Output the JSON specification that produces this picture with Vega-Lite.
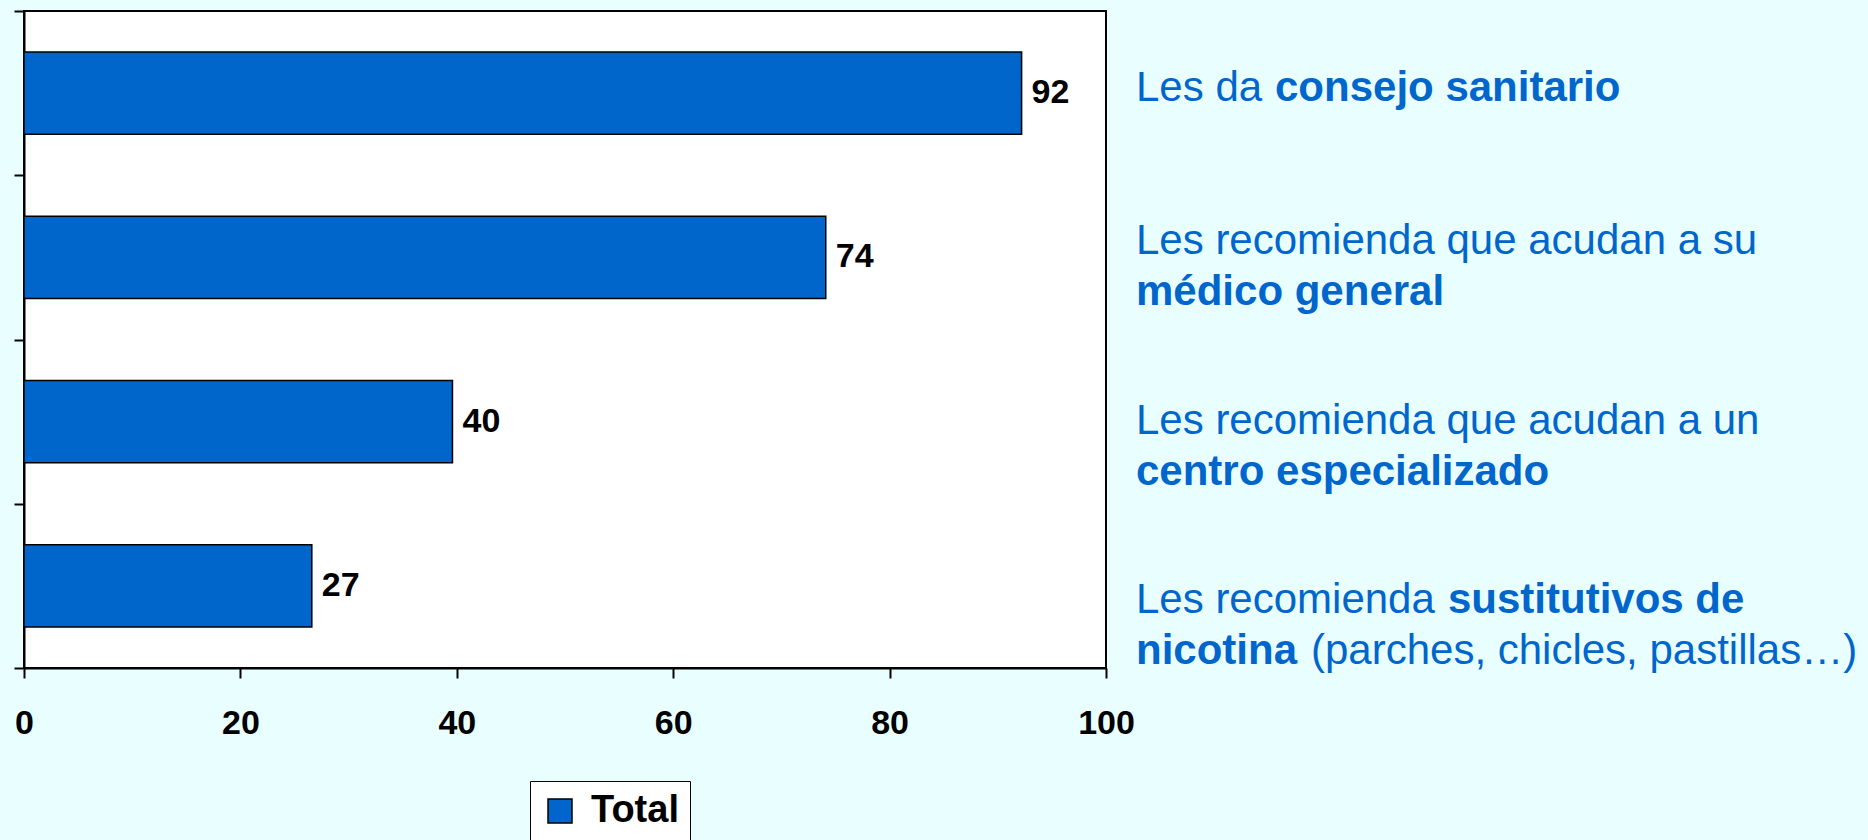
{
  "$schema": "https://vega.github.io/schema/vega-lite/v6.json",
  "width": 1082,
  "height": 657,
  "autosize": {"type": "none"},
  "padding": {"left": 24, "top": 11, "right": 762, "bottom": 172},
  "background": "#E9FFFF",
  "config": {
    "font": "Liberation Sans",
    "view": {"fill": "white", "stroke": "black", "strokeWidth": 2}
  },
  "datasets": {
    "barras": [
      {"categoria": "consejo sanitario", "valor": 92.2, "serie": "Total"},
      {"categoria": "médico general", "valor": 74.1, "serie": "Total"},
      {"categoria": "centro especializado", "valor": 39.6, "serie": "Total"},
      {"categoria": "sustitutivos de nicotina", "valor": 26.6, "serie": "Total"}
    ],
    "textos": [
      {"categoria": "consejo sanitario", "linea": "unica", "parte": "inicio", "texto": "Les da"},
      {"categoria": "consejo sanitario", "linea": "unica", "parte": "resto", "texto": "consejo sanitario"},
      {"categoria": "médico general", "linea": "1", "parte": "inicio", "texto": "Les recomienda que acudan a su"},
      {"categoria": "médico general", "linea": "2", "parte": "inicio", "texto": "médico general"},
      {"categoria": "centro especializado", "linea": "1", "parte": "inicio", "texto": "Les recomienda que acudan a un"},
      {"categoria": "centro especializado", "linea": "2", "parte": "inicio", "texto": "centro especializado"},
      {"categoria": "sustitutivos de nicotina", "linea": "1", "parte": "inicio", "texto": "Les recomienda"},
      {"categoria": "sustitutivos de nicotina", "linea": "1", "parte": "resto", "texto": "sustitutivos de"},
      {"categoria": "sustitutivos de nicotina", "linea": "2", "parte": "inicio", "texto": "nicotina"},
      {"categoria": "sustitutivos de nicotina", "linea": "2", "parte": "resto", "texto": "(parches, chicles, pastillas…)"}
    ]
  },
  "resolve": {"scale": {"y": "independent"}},
  "layer": [
    {
      "data": {"name": "barras"},
      "mark": {"type": "bar", "stroke": "black", "strokeWidth": 1.5, "height": {"band": 0.5}},
      "encoding": {
        "x": {
          "field": "valor", "type": "quantitative",
          "scale": {"domain": [0, 100], "nice": false},
          "axis": {"values": [0, 20, 40, 60, 80, 100], "title": null, "grid": false, "labelFontSize": 34, "labelFontWeight": "bold", "labelColor": "black", "labelPadding": 28, "labelFlush": false, "tickSize": 10, "tickColor": "black", "tickWidth": 2, "domainColor": "black", "domainWidth": 2}
        },
        "y": {
          "field": "categoria", "type": "nominal", "sort": null,
          "scale": {"type": "band", "paddingInner": 0, "paddingOuter": 0, "domain": ["consejo sanitario", "médico general", "centro especializado", "sustitutivos de nicotina"]},
          "axis": {"labels": false, "title": null, "grid": false, "tickBand": "extent", "tickSize": 10, "tickColor": "black", "tickWidth": 2, "domainColor": "black", "domainWidth": 2}
        },
        "color": {
          "field": "serie", "type": "nominal",
          "scale": {"range": ["#0066CC"]},
          "legend": {"orient": "none", "legendX": 506, "legendY": 770, "title": null, "symbolType": "square", "symbolSize": 576, "symbolStrokeColor": "black", "symbolStrokeWidth": 1.5, "symbolOpacity": 1, "labelFontSize": 38, "labelFontWeight": "bold", "labelColor": "black", "labelOffset": 12, "padding": 11, "strokeColor": "black", "fillColor": "white"}
        }
      }
    },
    {
      "data": {"name": "barras"},
      "mark": {"type": "text", "align": "left", "baseline": "middle", "dx": 10, "fontSize": 34, "fontWeight": "bold", "color": "black"},
      "encoding": {
        "x": {"field": "valor", "type": "quantitative", "scale": {"domain": [0, 100], "nice": false}},
        "y": {
          "field": "categoria", "type": "nominal", "sort": null,
          "scale": {"type": "band", "paddingInner": 0, "paddingOuter": 0, "domain": ["consejo sanitario", "médico general", "centro especializado", "sustitutivos de nicotina"]},
          "axis": null
        },
        "text": {"field": "valor", "type": "quantitative", "format": ".0f"}
      }
    },
    {
      "data": {"name": "textos"},
      "transform": [{"filter": "datum.linea == 'unica' && datum.parte == 'inicio'"}],
      "mark": {"type": "text", "align": "left", "baseline": "alphabetic", "dx": 30, "dy": 0, "fontSize": 42, "fontWeight": "normal", "color": "#0066CC"},
      "encoding": {
        "x": {"datum": 100, "type": "quantitative", "scale": {"domain": [0, 100], "nice": false}},
        "y": {"field": "categoria", "type": "nominal", "sort": null, "scale": {"type": "point", "padding": 0, "range": [89.5, 627.6], "domain": ["consejo sanitario", "médico general", "centro especializado", "sustitutivos de nicotina"]}, "axis": null},
        "text": {"field": "texto"}
      }
    },
    {
      "data": {"name": "textos"},
      "transform": [{"filter": "datum.linea == 'unica' && datum.parte == 'resto'"}],
      "mark": {"type": "text", "align": "left", "baseline": "alphabetic", "dx": 169, "dy": 0, "fontSize": 42, "fontWeight": "bold", "color": "#0066CC"},
      "encoding": {
        "x": {"datum": 100, "type": "quantitative", "scale": {"domain": [0, 100], "nice": false}},
        "y": {"field": "categoria", "type": "nominal", "sort": null, "scale": {"type": "point", "padding": 0, "range": [89.5, 627.6], "domain": ["consejo sanitario", "médico general", "centro especializado", "sustitutivos de nicotina"]}, "axis": null},
        "text": {"field": "texto"}
      }
    },
    {
      "data": {"name": "textos"},
      "transform": [{"filter": "datum.linea == '1' && datum.parte == 'inicio'"}],
      "mark": {"type": "text", "align": "left", "baseline": "alphabetic", "dx": 30, "dy": -25.5, "fontSize": 42, "fontWeight": "normal", "color": "#0066CC"},
      "encoding": {
        "x": {"datum": 100, "type": "quantitative", "scale": {"domain": [0, 100], "nice": false}},
        "y": {"field": "categoria", "type": "nominal", "sort": null, "scale": {"type": "point", "padding": 0, "range": [89.5, 627.6], "domain": ["consejo sanitario", "médico general", "centro especializado", "sustitutivos de nicotina"]}, "axis": null},
        "text": {"field": "texto"}
      }
    },
    {
      "data": {"name": "textos"},
      "transform": [{"filter": "datum.linea == '2' && datum.parte == 'inicio'"}],
      "mark": {"type": "text", "align": "left", "baseline": "alphabetic", "dx": 30, "dy": 25.5, "fontSize": 42, "fontWeight": "bold", "color": "#0066CC"},
      "encoding": {
        "x": {"datum": 100, "type": "quantitative", "scale": {"domain": [0, 100], "nice": false}},
        "y": {"field": "categoria", "type": "nominal", "sort": null, "scale": {"type": "point", "padding": 0, "range": [89.5, 627.6], "domain": ["consejo sanitario", "médico general", "centro especializado", "sustitutivos de nicotina"]}, "axis": null},
        "text": {"field": "texto"}
      }
    },
    {
      "data": {"name": "textos"},
      "transform": [{"filter": "datum.linea == '1' && datum.parte == 'resto'"}],
      "mark": {"type": "text", "align": "left", "baseline": "alphabetic", "dx": 342, "dy": -25.5, "fontSize": 42, "fontWeight": "bold", "color": "#0066CC"},
      "encoding": {
        "x": {"datum": 100, "type": "quantitative", "scale": {"domain": [0, 100], "nice": false}},
        "y": {"field": "categoria", "type": "nominal", "sort": null, "scale": {"type": "point", "padding": 0, "range": [89.5, 627.6], "domain": ["consejo sanitario", "médico general", "centro especializado", "sustitutivos de nicotina"]}, "axis": null},
        "text": {"field": "texto"}
      }
    },
    {
      "data": {"name": "textos"},
      "transform": [{"filter": "datum.linea == '2' && datum.parte == 'resto'"}],
      "mark": {"type": "text", "align": "left", "baseline": "alphabetic", "dx": 205, "dy": 25.5, "fontSize": 42, "fontWeight": "normal", "color": "#0066CC"},
      "encoding": {
        "x": {"datum": 100, "type": "quantitative", "scale": {"domain": [0, 100], "nice": false}},
        "y": {"field": "categoria", "type": "nominal", "sort": null, "scale": {"type": "point", "padding": 0, "range": [89.5, 627.6], "domain": ["consejo sanitario", "médico general", "centro especializado", "sustitutivos de nicotina"]}, "axis": null},
        "text": {"field": "texto"}
      }
    }
  ]
}
